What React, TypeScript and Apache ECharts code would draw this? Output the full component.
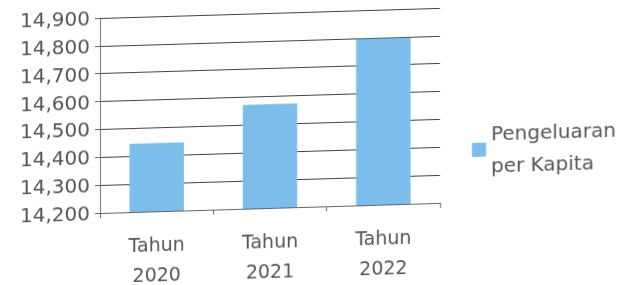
import React, { useEffect, useRef } from "react";
import * as echarts from "echarts";

const categories = ["Tahun\n2020", "Tahun\n2021", "Tahun\n2022"];
const seriesName = "Pengeluaran\nper Kapita";
const values = [14445, 14572, 14797];
const yMin = 14200;
const yMax = 14900;
const yInterval = 100;

export default function App() {
  const ref = useRef<HTMLDivElement>(null);
  useEffect(() => {
    if (!ref.current) return;
    const chart = echarts.init(ref.current, null, { renderer: "svg" });
    const textColor = "#555";
    const font = "DejaVu Sans";
    chart.setOption({
      animation: false,
      backgroundColor: "#fff",
      grid: { left: 100, right: 189, top: 18, bottom: 72, outerBoundsMode: "none", containLabel: false },
      legend: {
        left: 467,
        top: 124,
        orient: "vertical",
        icon: "rect",
        itemWidth: 14,
        itemHeight: 14,
        itemGap: 6,
        textStyle: { color: textColor, fontFamily: font, fontSize: 20, lineHeight: 32 },
        data: [seriesName],
      },
      xAxis: {
        type: "category",
        data: categories,
        axisLine: { lineStyle: { color: "#666", width: 1 } },
        axisTick: { show: true, length: 5, lineStyle: { color: "#666" } },
        axisLabel: {
          color: textColor,
          fontFamily: font,
          fontSize: 19,
          lineHeight: 30,
          margin: 18,
        },
      },
      yAxis: {
        type: "value",
        min: yMin,
        max: yMax,
        interval: yInterval,
        axisLine: { show: true, lineStyle: { color: "#777", width: 1 } },
        axisTick: { show: true, length: 5, lineStyle: { color: "#666" } },
        splitLine: { lineStyle: { color: "#444", width: 1 } },
        axisLabel: {
          color: textColor,
          fontFamily: font,
          fontSize: 20,
          margin: 10,
          formatter: (v: number) => v.toLocaleString("en-US"),
        },
      },
      series: [
        {
          name: seriesName,
          type: "bar",
          data: values,
          barWidth: "48%",
          itemStyle: { color: "#7cbdec" },
        },
      ],
    });
    return () => chart.dispose();
  }, []);
  return (
    <div
      ref={ref}
      style={{
        position: "fixed",
        left: 0,
        top: 0,
        width: 629,
        height: 285,
        transform: "skewY(-1.7deg)",
        transformOrigin: "100px 200px",
      }}
    />
  );
}
